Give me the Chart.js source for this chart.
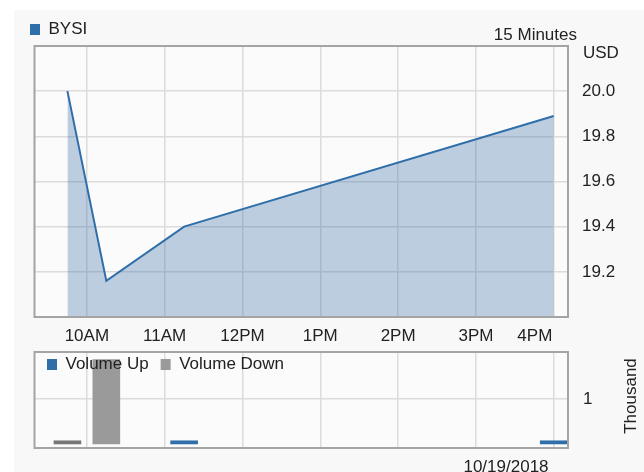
<!DOCTYPE html>
<html><head><meta charset="utf-8">
<script src="https://cdn.jsdelivr.net/npm/chart.js@4/dist/chart.umd.min.js"></script>
<style>
html,body{margin:0;padding:0;background:#fff;width:644px;height:472px;overflow:hidden;position:relative}
#panel{position:absolute;left:14px;top:10px;right:0;bottom:0;background:#f8f8f8}
#c1{position:absolute;left:0;top:0}
#c2{position:absolute;left:0;top:340px}
</style></head><body>
<div id="panel"></div>
<canvas id="c1" width="644" height="345"></canvas>
<canvas id="c2" width="644" height="132"></canvas>
<script>
// ---- data ----
const symbol = 'BYSI';
const intervalLabel = '15 Minutes';
const currencyLabel = 'USD';
const dateLabel = '10/19/2018';
const volumeUnitLabel = 'Thousand';
const hourTicks = ['10:00','11:00','12:00','13:00','14:00','15:00','16:00'];
const hourLabels = ['10AM','11AM','12PM','1PM','2PM','3PM','4PM'];
const priceTimes = ['09:45','10:15','11:15','16:00'];
const priceValues = [20.0, 19.16, 19.40, 19.89];
const priceTicks = [19.2, 19.4, 19.6, 19.8, 20.0];
const volUpTimes = ['11:15','16:00'];
const volUpValues = [70, 70];
const volDownTimes = ['09:45','10:15'];
const volDownValues = [70, 1870];
const volTicks = [1000];
const timeRange = ['09:20','16:11'];
const priceRange = [19.0, 20.2];
const volRange = [-90, 2040];

// ---- helpers / styles ----
const toMin = s => { const p = s.split(':').map(Number); return p[0]*60 + p[1]; };
const FONT = {family: "'Liberation Sans', Arial, sans-serif", size: 17};
const TXT = '#222222';
const GRID = '#dcdcdc';
const BLUE = '#2f6ea8';
const FILL = 'rgba(40,100,160,0.30)';
const DOWN = ['#777777', '#9a9a9a'];
const BORDER = '#a4a4a4';

const frame = {
  id: 'frame',
  beforeDraw(chart) {
    const {ctx, chartArea: a} = chart;
    ctx.save(); ctx.fillStyle = '#fbfbfb';
    ctx.fillRect(a.left, a.top, a.right - a.left, a.bottom - a.top);
    ctx.restore();
  },
  afterDatasetsDraw(chart) {
    const {ctx, chartArea: a} = chart;
    ctx.save(); ctx.strokeStyle = BORDER; ctx.lineWidth = 2;
    ctx.strokeRect(a.left - 0.5, a.top, a.right - a.left + 0.5, a.bottom - a.top);
    ctx.restore();
  }
};

function overlay(items) {
  return {
    id: 'overlay',
    afterDraw(chart) {
      const ctx = chart.ctx;
      items.forEach(it => {
        ctx.save();
        ctx.font = FONT.size + 'px ' + FONT.family;
        ctx.fillStyle = TXT;
        ctx.textAlign = it.align || 'left';
        ctx.textBaseline = 'middle';
        ctx.translate(it.x, it.y);
        if (it.rot) ctx.rotate(it.rot);
        ctx.fillText(it.text, 0, 0);
        ctx.restore();
      });
    }
  };
}

function legendNudge(pos, onTop) {
  return {
    id: 'legendNudge',
    afterInit(chart) {
      const lg = chart.legend;
      if (onTop && lg) lg._layers = () => [{z: 1, draw: (area) => lg.draw(area)}];
    },
    afterLayout(chart) {
      const lg = chart.legend; if (!lg) return;
      if (pos.left !== undefined) lg.left = pos.left;
      if (pos.top !== undefined) lg.top = pos.top;
      if (pos.height !== undefined) lg.height = pos.height;
      lg.bottom = lg.top + lg.height;
    }
  };
}

const hourValues = hourTicks.map(toMin);
const xCommon = {
  type: 'linear',
  offset: false,
  min: toMin(timeRange[0]),
  max: toMin(timeRange[1]),
  afterBuildTicks: s => { s.ticks = hourValues.map(v => ({value: v})); },
  grid: {color: GRID, lineWidth: 1.5, drawTicks: false, offset: false},
  border: {display: false}
};
const fitY = s => { s.width = 76; s.paddingTop = 0; s.paddingBottom = 0; };

// ---- price chart ----
new Chart(document.getElementById('c1'), {
  type: 'line',
  data: {
    datasets: [{
      label: symbol,
      data: priceTimes.map((t, i) => ({x: toMin(t), y: priceValues[i]})),
      borderColor: BLUE,
      backgroundColor: FILL,
      borderWidth: 2,
      pointRadius: 0,
      tension: 0,
      fill: 'start'
    }]
  },
  options: {
    responsive: false, animation: false, devicePixelRatio: 1,
    layout: {padding: {top: 11, left: 35, right: 0, bottom: 0}},
    plugins: {
      legend: {
        position: 'top', align: 'start', maxHeight: 35,
        labels: {
          boxWidth: 10, boxHeight: 11, padding: 10, font: FONT, color: TXT,
          generateLabels: chart => chart.data.datasets.map((d, i) => ({
            text: d.label, fillStyle: d.borderColor, strokeStyle: d.borderColor,
            lineWidth: 0, hidden: false, datasetIndex: i, fontColor: TXT
          }))
        }
      },
      tooltip: {enabled: false}
    },
    scales: {
      x: Object.assign({}, xCommon, {
        ticks: {
          color: TXT, font: FONT, padding: 9, maxRotation: 0, autoSkip: false,
          callback: (v, i, arr) => {
            const lbl = hourLabels[hourValues.indexOf(v)];
            return i === arr.length - 1 ? lbl + '        ' : lbl;
          }
        },
        afterFit: s => { s.height = 28; }
      }),
      y: {
        position: 'right',
        min: priceRange[0], max: priceRange[1],
        afterBuildTicks: s => { s.ticks = priceTicks.map(v => ({value: v})); },
        ticks: {color: TXT, font: FONT, padding: 14, callback: v => Number(v).toFixed(1)},
        grid: {color: GRID, lineWidth: 1.5, drawTicks: false},
        border: {display: false},
        afterFit: fitY
      }
    }
  },
  plugins: [frame, legendNudge({left: 20}, false), overlay([
    {text: intervalLabel, x: 577, y: 35, align: 'right'},
    {text: currencyLabel, x: 583, y: 53, align: 'left'}
  ])]
});

// ---- volume chart ----
new Chart(document.getElementById('c2'), {
  type: 'bar',
  data: {
    datasets: [
      {
        label: 'Volume Up',
        data: volUpTimes.map((t, i) => ({x: toMin(t), y: volUpValues[i]})),
        backgroundColor: BLUE
      },
      {
        label: 'Volume Down',
        data: volDownTimes.map((t, i) => ({x: toMin(t), y: volDownValues[i]})),
        backgroundColor: DOWN
      }
    ]
  },
  options: {
    responsive: false, animation: false, devicePixelRatio: 1,
    layout: {padding: {top: 0, left: 35, right: 0, bottom: 0}},
    datasets: {bar: {grouped: false, barThickness: 27, borderWidth: 0}},
    plugins: {
      legend: {
        position: 'top', align: 'start', maxHeight: 12,
        labels: {
          boxWidth: 10, boxHeight: 11, padding: 12, font: FONT, color: TXT,
          generateLabels: chart => chart.data.datasets.map((d, i) => {
            const c = Array.isArray(d.backgroundColor) ? d.backgroundColor[d.backgroundColor.length - 1] : d.backgroundColor;
            return {text: d.label, fillStyle: c, strokeStyle: c, lineWidth: 0, hidden: false, datasetIndex: i, fontColor: TXT};
          })
        }
      },
      tooltip: {enabled: false}
    },
    scales: {
      x: Object.assign({}, xCommon, {
        ticks: {display: false},
        afterFit: s => { s.height = 24; s.paddingLeft = 0; s.paddingRight = 0; }
      }),
      y: {
        position: 'right',
        min: volRange[0], max: volRange[1],
        afterBuildTicks: s => { s.ticks = volTicks.map(v => ({value: v})); },
        ticks: {color: TXT, font: FONT, padding: 15, callback: v => String(v / 1000)},
        grid: {color: GRID, lineWidth: 1.5, drawTicks: false},
        border: {display: false},
        afterFit: fitY
      }
    }
  },
  plugins: [frame, legendNudge({top: 4, height: 40}, true), overlay([
    {text: volumeUnitLabel, x: 631, y: 56, align: 'center', rot: -Math.PI / 2},
    {text: dateLabel, x: 506, y: 127, align: 'center'}
  ])]
});
</script>
</body></html>
